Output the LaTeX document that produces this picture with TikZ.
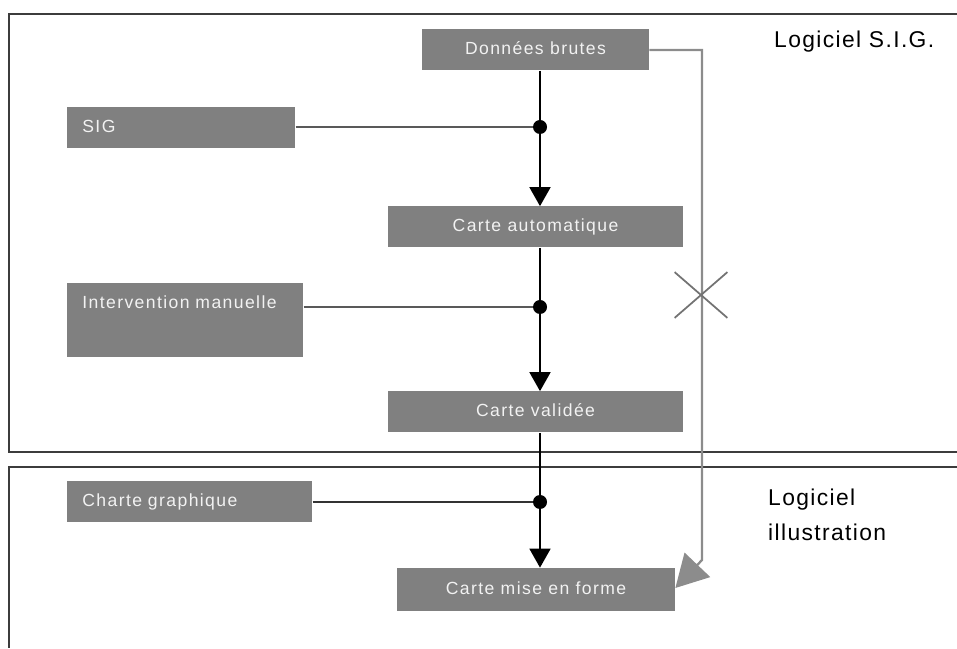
\documentclass[tikz,border=0pt]{standalone}
\usepackage{fontspec}
\setsansfont{Liberation Sans}
\newfontfamily\boitefont[LetterSpace=8]{Liberation Sans}
\newfontfamily\titrefont[LetterSpace=6]{Liberation Sans}
\usetikzlibrary{arrows.meta,shapes.misc}

\definecolor{fondboite}{HTML}{808080}
\definecolor{texteboite}{HTML}{F2F2F2}
\definecolor{cadre}{HTML}{3C3C3C}
\definecolor{liengris}{HTML}{8C8C8C}

\tikzset{
  boite/.style={fill=fondboite, text=texteboite, font=\boitefont\fontsize{10}{12}\selectfont,
    inner ysep=0.2cm, text height=0.3cm, text depth=0.12cm},
  entree/.style={boite, anchor=north west, align=left, inner xsep=0.3cm},
  etape/.style={boite, align=center},
  point/.style={circle, fill=black, inner sep=0pt, minimum size=0.28cm},
  fleche/.style={-{Triangle[width=0.42cm,length=0.38cm]}},
  titre/.style={font=\titrefont\fontsize{13}{16}\selectfont, align=left, anchor=west}
}

\begin{document}
\begin{tikzpicture}
    \useasboundingbox (0,0) rectangle (19.14,12.96);
    % cadres
    \draw[cadre, line width=1.1pt] (19.14,12.68) -- (0.18,12.68) -- (0.18,3.92) -- (19.14,3.92);
    \draw[cadre, line width=1.1pt] (19.14,3.62) -- (0.18,3.62) -- (0.18,0);
    \node[titre] at (15.36,12.12) (sig) {Logiciel S.I.G.};
    \node[titre] at (15.24,2.66) (illus) {Logiciel\\[4pt]illustration};

    \node[etape, minimum width=4.54cm] at (10.71,11.96) (DB) {Données brutes};
    \node[entree, text width=3.96cm] at (1.34,10.82) (SIG) {SIG};
    \node[etape, minimum width=5.9cm] at (10.71,8.42) (CA) {Carte automatique};
    \node[entree, text width=4.12cm, text depth=0.78cm] at (1.34,7.3) (IM) {Intervention manuelle};
    \node[etape, minimum width=5.9cm] at (10.71,4.72) (CV) {Carte validée};
    \node[entree, text width=4.3cm] at (1.34,3.34) (CG) {Charte graphique};
    \node[etape, minimum width=5.56cm, minimum height=0.86cm] at (10.72,1.17) (CMF) {Carte mise en forme};

    \node[point] at (10.8,10.42) (d1) {};
    \node[point] at (10.8,6.82) (d2) {};
    \node[point] at (10.8,2.92) (d3) {};

    \draw[line width=1pt] (DB.south -| d1) -- (d1);
    \draw[line width=1pt, fleche] (d1) -- (CA.north -| d1);
    \draw[line width=1pt] (CA.south -| d2) -- (d2);
    \draw[line width=1pt, fleche] (d2) -- (CV.north -| d2);
    \draw[line width=1pt] (CV.south -| d3) -- (d3);
    \draw[line width=1pt, fleche] (d3) -- (CMF.north -| d3);

    \draw[black!65, line width=1pt] (SIG.east |- d1) -- (d1);
    \draw[black!65, line width=1pt] (IM.east |- d2) -- (d2);
    \draw[black!80, line width=1pt] (CG.east |- d3) -- (d3);

    % lien direct
    \coordinate (coude) at (14.04,1.76);
    \draw[liengris, line width=1.3pt, -{Triangle[width=0.7cm,length=0.64cm]}] (DB.east) -| (coude) -- ([yshift=0.03cm]CMF.east);
    \node[cross out, draw=black!55, line width=1pt, minimum width=1.02cm, minimum height=0.88cm, inner sep=0pt] at (14.02,7.06) (barre) {};
\end{tikzpicture}
\end{document}
